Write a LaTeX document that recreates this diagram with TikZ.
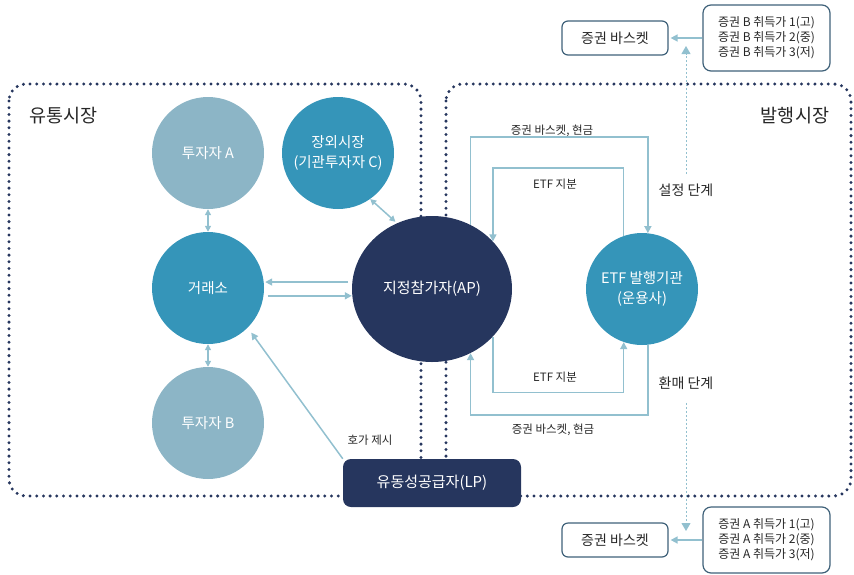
\documentclass[tikz,border=0pt]{standalone}
\usepackage{fontspec}
\setmainfont{Noto Sans CJK KR}
\usetikzlibrary{arrows.meta,shapes.geometric}
\definecolor{navy}{HTML}{26365E}
\definecolor{midblue}{HTML}{3595B9}
\definecolor{paleblue}{HTML}{8CB5C6}
\definecolor{flowblue}{HTML}{92C0CF}
\definecolor{edgeblue}{HTML}{3F6179}
\definecolor{inkgray}{HTML}{262626}
\begin{document}
\begin{tikzpicture}[x=1pt,y=-1pt,
    ball/.style={circle, minimum size=112pt, inner sep=0pt, text=white, align=center, font=\fontsize{14.5}{20}\selectfont},
    lightball/.style={ball, fill=paleblue},
    midball/.style={ball, fill=midblue},
    apball/.style={ellipse, minimum width=160pt, minimum height=146pt, inner sep=0pt, fill=navy, text=white, font=\fontsize{15}{18}\selectfont},
    lpbox/.style={rectangle, rounded corners=8pt, minimum width=178pt, minimum height=48pt, fill=navy, text=white, font=\fontsize{15}{18}\selectfont},
    dotbox/.style={draw=navy, line width=3.3pt, line cap=round, dash pattern=on 0pt off 6.7pt, rounded corners=17pt},
    flow/.style={draw=flowblue, line width=1.5pt},
    onehead/.style={-{Triangle[length=7pt,width=7pt]}},
    twohead/.style={{Triangle[length=6pt,width=6pt]}-{Triangle[length=6pt,width=6pt]}},
    stage/.style={draw=flowblue, line width=1pt, dash pattern=on 2pt off 2pt, -{Triangle[length=8pt,width=9pt]}},
    market/.style={text=inkgray, font=\fontsize{18.5}{22}\selectfont},
    stagelabel/.style={text=inkgray, font=\fontsize{14}{17}\selectfont},
    small/.style={text=inkgray, font=\fontsize{11.5}{13}\selectfont},
    basket/.style={draw=edgeblue, line width=1.2pt, rounded corners=6pt, minimum width=106pt, minimum height=34pt, text=inkgray, font=\fontsize{14}{17}\selectfont},
    pricebox/.style={draw=edgeblue, line width=1.2pt, rounded corners=8pt, minimum width=127pt, minimum height=66pt, align=center, text=inkgray, font=\fontsize{12}{15}\selectfont}]
    \useasboundingbox (0,0) rectangle (854,574);
    \draw[dotbox] (9,84) rectangle (421,496);
    \draw[dotbox] (446,84) rectangle (851,496);
    \node[market, anchor=west] (dist) at (26,116) {유통시장};
    \node[market] (issue) at (795,116) {발행시장};
    \node[lightball] (invA) at (208,153) {투자자 A};
    \node[midball] (otc) at (338,153) {장외시장\\(기관투자자 C)};
    \node[midball] (exch) at (208,288) {거래소};
    \node[lightball] (invB) at (208,423) {투자자 B};
    \node[apball] (ap) at (432,289) {지정참가자(AP)};
    \node[midball] (etf) at (642,289) {ETF 발행기관\\(운용사)};
    \node[lpbox] (lp) at (432,483) {유동성공급자(LP)};
    \node[small] (cashtop) at (552,131) {증권 바스켓, 현금};
    \node[small] (sharetop) at (555,184) {ETF 지분};
    \node[small] (sharebot) at (555,377) {ETF 지분};
    \node[small] (cashbot) at (553,430) {증권 바스켓, 현금};
    \node[small] (quote) at (370,440) {호가 제시};
    \node[stagelabel] (setup) at (686,190) {설정 단계};
    \node[stagelabel] (redeem) at (686,383) {환매 단계};
    \node[basket] (basketB) at (615,38) {증권 바스켓};
    \node[pricebox] (priceB) at (766.5,38) {증권 B 취득가 1(고)\\증권 B 취득가 2(중)\\증권 B 취득가 3(저)};
    \node[basket] (basketA) at (615,540) {증권 바스켓};
    \node[pricebox] (priceA) at (766.5,540) {증권 A 취득가 1(고)\\증권 A 취득가 2(중)\\증권 A 취득가 3(저)};
    \coordinate (upB) at (686,46);
    \coordinate (downA) at (686,531);
    \draw[flow, twohead] (invA) -- (exch);
    \draw[flow, twohead] (exch) -- (invB);
    \draw[flow, twohead, shorten >=2pt] (otc.-55) -- (ap.118);
    \draw[flow, onehead, shorten <=4pt, shorten >=1pt] (ap.175) -- (ap.175 -| exch.east);
    \draw[flow, onehead, shorten <=4pt] (exch.-8) -- (exch.-8 -| ap.west);
    \draw[flow, onehead, shorten >=6pt] (lp.north west) -- (exch.-45);
    \draw[flow, onehead] (ap.59) -- ++(0,-88) -| (etf.84);
    \draw[flow, onehead] (etf.109) -- ++(0,-68) -| (ap.38);
    \draw[flow, onehead] (ap.-38) -- ++(0,56) -| (etf.-109);
    \draw[flow, onehead] (etf.-84) -- ++(0,70) -| (ap.-59);
    \draw[flow, onehead, shorten >=2pt] (priceB) -- (basketB);
    \draw[flow, onehead, shorten >=2pt] (priceA) -- (basketA);
    \draw[stage, shorten <=6pt] (setup.north) -- (upB);
    \draw[stage, shorten <=10pt] (redeem.south) -- (downA);
\end{tikzpicture}
\end{document}
